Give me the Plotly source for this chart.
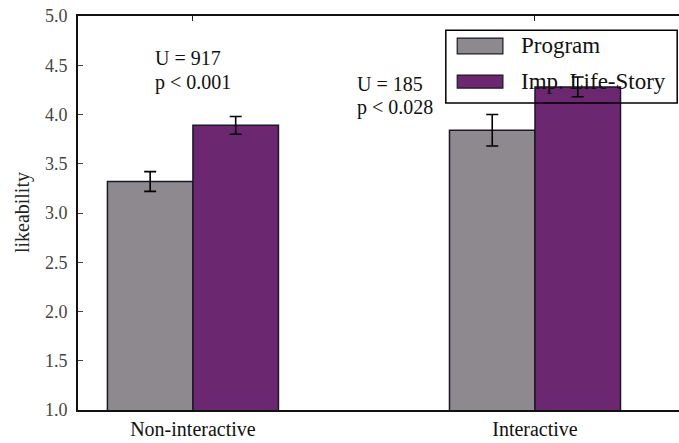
import plotly.graph_objects as go

categories = ["Non-interactive", "Interactive"]
series_names = ["Program", "Imp. Life-Story"]
program_vals = [3.32, 3.84]
program_err = [0.10, 0.16]
story_vals = [3.89, 4.28]
story_err = [0.09, 0.10]
y_ticks = [1.0, 1.5, 2.0, 2.5, 3.0, 3.5, 4.0, 4.5, 5.0]
stat_labels = [("U = 917", "p < 0.001"), ("U = 185", "p < 0.028")]
y_title = "likeability"

GRAY = "#8d898e"
PURPLE = "#6b2770"
EDGE = "#1c1826"
FONT = "Liberation Serif"

xpos = list(range(len(categories)))

fig = go.Figure()
fig.add_trace(go.Bar(
    x=xpos, y=program_vals, name=series_names[0], offset=-0.25, width=0.25,
    marker=dict(color=GRAY, line=dict(color=EDGE, width=1.5)),
    error_y=dict(type="data", array=program_err, color="black", thickness=1.6, width=6),
    base=0, showlegend=False,
))
fig.add_trace(go.Bar(
    x=xpos, y=story_vals, name=series_names[1], offset=0.0, width=0.25,
    marker=dict(color=PURPLE, line=dict(color=EDGE, width=1.5)),
    error_y=dict(type="data", array=story_err, color="black", thickness=1.6, width=6),
    base=0, showlegend=False,
))

# statistic annotations
ann_x = [-0.117, 0.474]
ann_y = [(4.57, 4.33), (4.31, 4.07)]
for i, (u, p) in enumerate(stat_labels):
    fig.add_annotation(x=ann_x[i], y=ann_y[i][0], text=u, showarrow=False,
                       xanchor="left", yanchor="middle", font=dict(family=FONT, size=20, color="#111"))
    fig.add_annotation(x=ann_x[i], y=ann_y[i][1], text=p, showarrow=False,
                       xanchor="left", yanchor="middle", font=dict(family=FONT, size=20, color="#111"))

# y-axis title
fig.add_annotation(xref="paper", yref="paper", x=-0.093, y=0.5, text=y_title, textangle=-90,
                   showarrow=False, xanchor="center", yanchor="middle",
                   font=dict(family=FONT, size=20, color="#222"))

# manual legend (box, swatches, labels)
fig.add_shape(type="rect", xref="paper", yref="paper", x0=0.612, x1=0.997, y0=0.779, y1=0.964,
              line=dict(color="black", width=1.5), fillcolor="rgba(0,0,0,0)", layer="above")
sw = [(0.904, 0.944, GRAY), (0.817, 0.850, PURPLE)]
for (y0, y1, c), name in zip(sw, series_names):
    fig.add_shape(type="rect", xref="paper", yref="paper", x0=0.631, x1=0.707, y0=y0, y1=y1,
                  line=dict(color=EDGE, width=1.2), fillcolor=c, layer="above")
    fig.add_annotation(xref="paper", yref="paper", x=0.734, y=(y0 + y1) / 2, text=name,
                       showarrow=False, xanchor="left", yanchor="middle",
                       font=dict(family=FONT, size=23, color="#111"))

fig.update_layout(
    width=679, height=443,
    margin=dict(l=78, r=0, t=16, b=33),
    paper_bgcolor="white", plot_bgcolor="white",
    barmode="overlay",
    font=dict(family=FONT, color="#222"),
)
fig.update_xaxes(
    range=[-0.336, 1.421], tickvals=xpos, ticktext=categories, automargin=False,
    ticks="inside", ticklen=5, tickcolor="#222", showline=True, linecolor="#111", linewidth=1.5,
    mirror="ticks", showgrid=False, zeroline=False, tickfont=dict(family=FONT, size=20, color="#111"),
)
fig.update_yaxes(
    range=[1.0, 5.0], tickvals=y_ticks, ticktext=[f"{v:.1f}" for v in y_ticks], automargin=False,
    ticks="inside", ticklen=5, tickcolor="#444", showline=True, linecolor="#111", linewidth=2,
    showgrid=False, zeroline=False, tickfont=dict(family=FONT, size=18, color="#444"),
    ticklabelstandoff=5,
)

fig.write_html("out.html", config={"displayModeBar": False},
               post_script="document.body.style.margin='0';")
